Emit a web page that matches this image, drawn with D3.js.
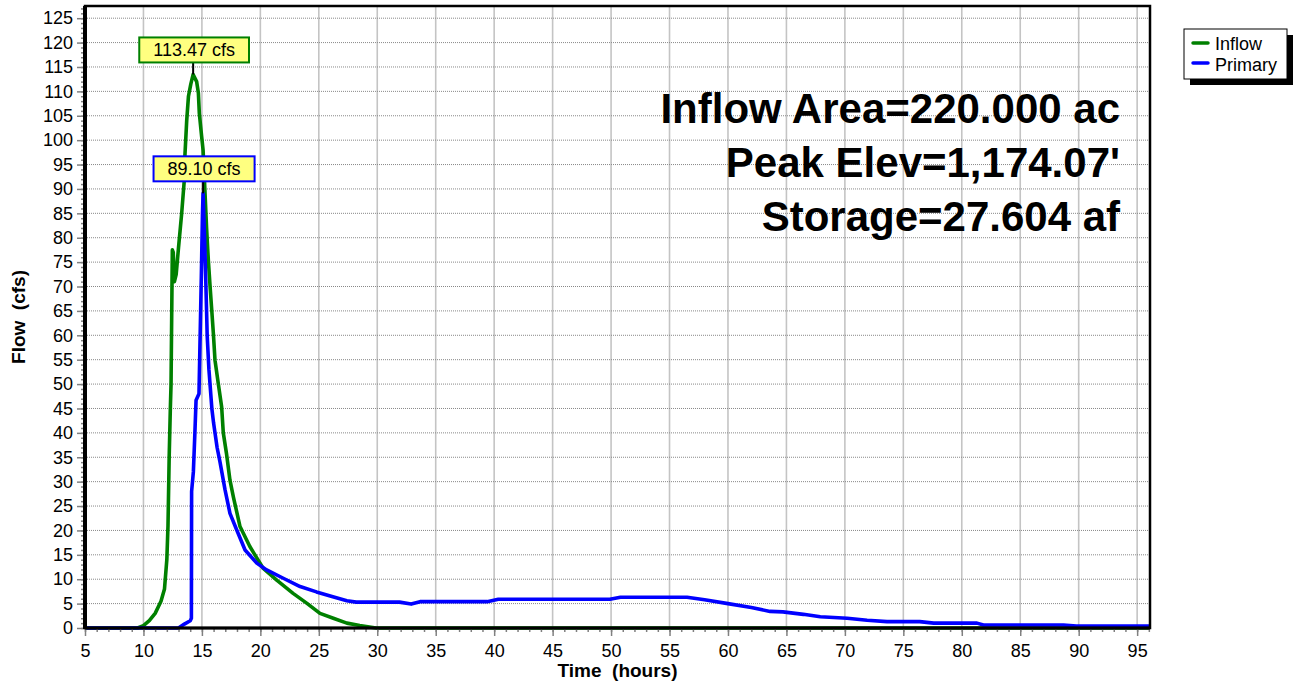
<!DOCTYPE html>
<html>
<head>
	<meta charset="utf-8">
	<title>Hydrograph</title>
	<script type="text/javascript" src="https://cdn.jsdelivr.net/npm/d3@7"></script>
	<style>
		body {
			font-family: "Liberation Sans", Arial, Helvetica, sans-serif;
			margin: 0;
			background: #fff;
		}
	</style>
</head>

<body>

	<div id="chart"></div>

	<script>

		// data

		const inflowTime = [5, 9.5, 10, 10.5, 11, 11.5, 11.8, 12.0, 12.1, 12.2, 12.3, 12.36, 12.42, 12.47, 12.55, 12.65, 12.8, 13.0,
			13.27, 13.5, 13.55, 13.7, 13.85, 14.05, 14.25, 14.55, 14.7, 14.78, 14.98, 15.1, 15.27, 15.4, 15.55, 15.7, 15.84,
			15.98, 16.12, 16.4, 16.69, 16.83, 17.1, 17.4, 17.69, 18.26, 19.1, 20.25, 21.4, 22.8, 23.96, 25.1, 26.24, 27.4,
			28.5, 29.9, 96.1];
		const inflowFlow = [0, 0, 0.5, 1.5, 3, 5.5, 8, 14, 21, 35, 45, 50, 65, 77.5, 77, 71, 72.5, 78,
			85, 92, 97, 104, 109, 111.5, 113.47, 112, 109.6, 105.5, 100.7, 98, 89, 82, 75.4, 70, 65.2,
			60.4, 54.9, 50.1, 45.3, 40, 35.8, 30.3, 26.9, 20.8, 16.7, 12.2, 9.8, 7.1, 5.1, 3, 2, 1,
			0.5, 0, 0];

		const primaryTime = [5, 13, 13.5, 14.0, 14.1, 14.12, 14.27, 14.4, 14.5, 14.75, 14.85, 14.95, 15.05, 15.1, 15.2, 15.3,
			15.4, 15.45, 15.6, 15.85, 16.0, 16.3, 16.55, 16.98, 17.4, 17.98, 18.69, 19.69, 20.54, 21.96, 23.4, 24.8, 26.2,
			27.4, 28.2, 31.9, 32.9, 33.66, 39.4, 40.35, 49.9, 50.8, 56.5, 58, 60, 62, 63.6, 64.7, 66.45, 67.9, 70.2, 71.9,
			73.6, 76.4, 77.6, 81.3, 81.85, 88.7, 89.8, 96.1];
		const primaryFlow = [0, 0, 0.8, 1.5, 2, 28, 32, 40, 46.7, 48, 60, 72, 85, 89.1, 82, 74,
			65, 60, 53, 45, 42, 37, 34, 28.3, 23.5, 20.1, 16, 13.3, 11.9, 10.2, 8.5, 7.4, 6.4,
			5.6, 5.3, 5.3, 4.9, 5.4, 5.4, 5.9, 5.9, 6.3, 6.3, 5.8, 5.0, 4.2, 3.4, 3.3, 2.8, 2.3, 2.0, 1.6,
			1.3, 1.3, 1.0, 1.0, 0.6, 0.6, 0.4, 0.4];

		const seriesNames  = ["Inflow", "Primary"];
		const seriesColors = ["#008000", "#0000ff"];
		const peakLabels   = ["113.47 cfs", "89.10 cfs"];
		const peakTimes    = [14.25, 15.1];
		const peakValues   = [113.47, 89.10];
		const infoLines    = ["Inflow Area=220.000 ac", "Peak Elev=1,174.07'", "Storage=27.604 af"];

		const xMajorTicks = d3.range(5, 96, 5);
		const xMinorTicks = d3.range(5, 97, 1);
		const yMajorTicks = d3.range(0, 126, 5);
		const yMinorTicks = d3.range(0, 128, 1);

		// layout

		const width  = 1294;
		const height = 684;
		const marginLeft   = 85;
		const marginRight  = 144;
		const marginTop    = 6;
		const marginBottom = 56;
		const fontSize     = "18px";

		const svg = d3.select("#chart")
			.append("svg")
			.attr("width", width)
			.attr("height", height)
			.attr("viewBox", [0, 0, width, height])
			.style("font-family", "'Liberation Sans', Arial, sans-serif");

		svg.append("rect").attr("width", width).attr("height", height).attr("fill", "#fff");

		const x = d3.scaleLinear([5, 96.1], [marginLeft, width - marginRight]);
		const y = d3.scaleLinear([0, 127.5], [height - marginBottom, marginTop]);

		const plotLeft = x.range()[0], plotRight = x.range()[1];
		const plotTop = y.range()[1], plotBottom = y.range()[0];

		// grid
		svg.append("g")
			.selectAll("line")
			.data(xMajorTicks)
			.join("line")
			.attr("x1", d => x(d)).attr("x2", d => x(d))
			.attr("y1", plotTop).attr("y2", plotBottom)
			.attr("stroke", "#c4c4c4")
			.attr("stroke-width", 1.6);

		svg.append("g")
			.selectAll("line")
			.data(yMajorTicks)
			.join("line")
			.attr("x1", plotLeft).attr("x2", plotRight)
			.attr("y1", d => y(d)).attr("y2", d => y(d))
			.attr("stroke", "#888")
			.attr("stroke-width", 1)
			.attr("stroke-dasharray", "1,1");

		// series
		const series = [
			d3.zip(inflowTime, inflowFlow),
			d3.zip(primaryTime, primaryFlow),
		];

		const line = d3.line()
			.x(d => x(d[0]))
			.y(d => y(d[1]));

		svg.append("g")
			.attr("fill", "none")
			.attr("stroke-width", 3.6)
			.attr("stroke-linejoin", "round")
			.selectAll("path")
			.data(series)
			.join("path")
			.attr("stroke", (d, i) => seriesColors[i])
			.attr("d", line);

		// axes
		const styleTicks = g => {
			g.select(".domain").remove();
			g.selectAll(".tick line").attr("stroke", "#808080").attr("stroke-width", 1.5);
			g.selectAll(".tick text").attr("fill", "#000");
		};

		svg.append("g")
			.attr("transform", `translate(${plotLeft},0)`)
			.call(d3.axisLeft(y).tickValues(yMinorTicks).tickSize(4).tickFormat(""))
			.call(styleTicks);

		svg.append("g")
			.attr("transform", `translate(${plotLeft},0)`)
			.style("font-size", fontSize)
			.call(d3.axisLeft(y).tickValues(yMajorTicks).tickSize(8).tickPadding(4))
			.call(styleTicks);

		svg.append("g")
			.attr("transform", `translate(0,${plotBottom})`)
			.call(d3.axisBottom(x).tickValues(xMinorTicks).tickSize(4).tickFormat(""))
			.call(styleTicks);

		svg.append("g")
			.attr("transform", `translate(0,${plotBottom})`)
			.style("font-size", fontSize)
			.call(d3.axisBottom(x).tickValues(xMajorTicks).tickSize(8).tickPadding(8))
			.call(styleTicks);

		// frame
		svg.append("rect")
			.attr("x", plotLeft).attr("y", plotTop)
			.attr("width", plotRight - plotLeft).attr("height", plotBottom - plotTop)
			.attr("fill", "none")
			.attr("stroke", "#000")
			.attr("stroke-width", 2.5);
		svg.append("line")
			.attr("x1", plotLeft).attr("x2", plotLeft).attr("y1", plotTop).attr("y2", plotBottom + 1)
			.attr("stroke", "#000").attr("stroke-width", 4);
		svg.append("line")
			.attr("x1", plotLeft).attr("x2", plotRight).attr("y1", plotBottom).attr("y2", plotBottom)
			.attr("stroke", "#000").attr("stroke-width", 3);

		// axis titles
		svg.append("text")
			.attr("transform", `translate(25,${(plotTop + plotBottom) / 2}) rotate(-90)`)
			.attr("text-anchor", "middle")
			.style("font-weight", "bold")
			.style("font-size", "19px")
			.style("white-space", "pre")
			.text("Flow  (cfs)");

		svg.append("text")
			.attr("x", (plotLeft + plotRight) / 2)
			.attr("y", 677)
			.attr("text-anchor", "middle")
			.style("font-weight", "bold")
			.style("font-size", "19px")
			.style("white-space", "pre")
			.text("Time  (hours)");

		// peak labels
		peakLabels.forEach((label, i) => {
			const px = x(peakTimes[i]);
			const py = y(peakValues[i]);
			const g = svg.append("g");
			g.append("line")
				.attr("x1", px).attr("x2", px)
				.attr("y1", py).attr("y2", py - 12)
				.attr("stroke", "#000").attr("stroke-width", 2);
			const t = g.append("text")
				.attr("x", px + 1)
				.attr("y", py - 18)
				.attr("text-anchor", "middle")
				.style("font-size", fontSize)
				.text(label);
			const bb = t.node().getBBox();
			g.insert("rect", "text")
				.attr("x", bb.x - 14)
				.attr("y", py - 37)
				.attr("width", bb.width + 28)
				.attr("height", 25)
				.attr("fill", "#ffff80")
				.attr("stroke", seriesColors[i])
				.attr("stroke-width", 2);
		});

		// info text
		svg.append("g")
			.attr("text-anchor", "end")
			.style("font-weight", "bold")
			.style("font-size", "42px")
			.selectAll("text")
			.data(infoLines)
			.join("text")
			.attr("x", 1120)
			.attr("y", (d, i) => 123 + i * 54)
			.text(d => d);

		// legend
		const legend = svg.append("g").attr("transform", "translate(1184,29)");
		legend.append("rect")
			.attr("x", 6).attr("y", 6).attr("width", 103).attr("height", 50)
			.attr("fill", "#000");
		legend.append("rect")
			.attr("width", 103).attr("height", 50)
			.attr("fill", "#fff").attr("stroke", "#000").attr("stroke-width", 1);
		seriesNames.forEach((name, i) => {
			legend.append("line")
				.attr("x1", 9).attr("x2", 24)
				.attr("y1", 14 + i * 20).attr("y2", 14 + i * 20)
				.attr("stroke", seriesColors[i]).attr("stroke-width", 3.5)
				.attr("stroke-linecap", "round");
			legend.append("text")
				.attr("x", 31).attr("y", 21 + i * 21)
				.style("font-size", fontSize)
				.text(name);
		});

	</script>

</body>

</html>
